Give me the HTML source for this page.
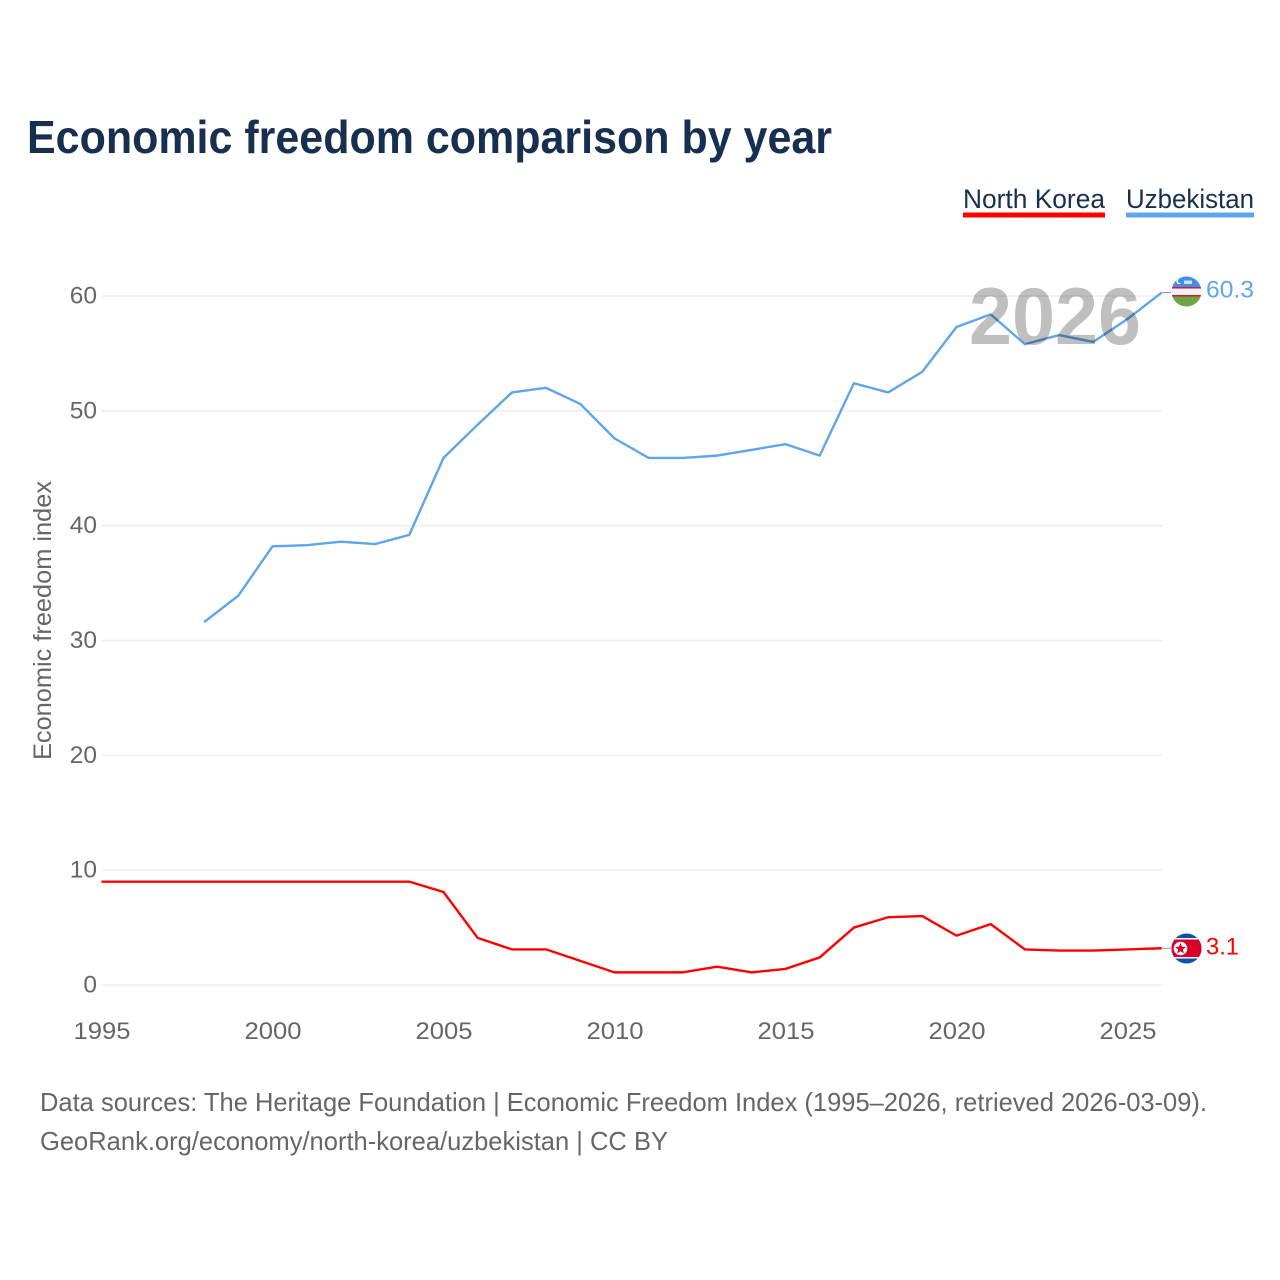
<!DOCTYPE html>
<html lang="en">
<head>
<meta charset="utf-8">
<title>Economic freedom comparison by year</title>
<style>
html,body{margin:0;padding:0;background:#fff;}
svg{display:block;font-family:"Liberation Sans",sans-serif;}
.tick{font-size:24.5px;fill:#666;}
</style>
</head>
<body>
<svg id="chart" width="1280" height="1280" viewBox="0 0 1280 1280" xmlns="http://www.w3.org/2000/svg">
  <defs>
    <clipPath id="clip-uz"><circle id="clip-uz-c" cx="1186.5" cy="291.5" r="15"></circle></clipPath>
    <clipPath id="clip-nk"><circle id="clip-nk-c" cx="1186.5" cy="948.5" r="15"></circle></clipPath>
  </defs>
  <text x="27" y="153" font-size="46" font-weight="700" fill="#18304f" textLength="805" lengthAdjust="spacingAndGlyphs">Economic freedom comparison by year</text>

  <g>
    <text x="963" y="208" font-size="27" fill="#18304f" textLength="142" lengthAdjust="spacingAndGlyphs">North Korea</text>
    <rect x="963" y="212.5" width="142" height="5" fill="#ff0000"></rect>
  </g>
  <g>
    <text x="1126" y="208" font-size="27" fill="#18304f" textLength="128" lengthAdjust="spacingAndGlyphs">Uzbekistan</text>
    <rect x="1126" y="212.5" width="128" height="5" fill="#5fa5ec"></rect>
  </g>

  <g id="grid"></g>
  <g id="yticks"></g>
  <g id="xticks"></g>
  <text transform="translate(51,620.5) rotate(-90)" text-anchor="middle" font-size="25" fill="#666" textLength="279" lengthAdjust="spacingAndGlyphs">Economic freedom index</text>

  <g id="series"></g>

  <text x="969" y="344" font-size="81" font-weight="700" fill="#000" fill-opacity="0.25" textLength="172" lengthAdjust="spacingAndGlyphs">2026</text>

  <g id="flag-uz" clip-path="url(#clip-uz)">
    <rect x="1170" y="275" width="33" height="12" fill="#3f8fe8"></rect>
    <rect x="1170" y="287" width="33" height="1.5" fill="#d8143a"></rect>
    <rect x="1170" y="288.5" width="33" height="6.5" fill="#f2f2f2"></rect>
    <rect x="1170" y="295" width="33" height="1.5" fill="#d8143a"></rect>
    <rect x="1170" y="296.5" width="33" height="12" fill="#6da544"></rect>
    <circle cx="1179" cy="281.5" r="2.6" fill="#fff"></circle>
    <circle cx="1180.2" cy="281" r="2.3" fill="#3f8fe8"></circle>
    <rect x="1184" y="280.5" width="8" height="3.5" fill="#cfe3f8"></rect>
  </g>
  <g id="flag-nk" clip-path="url(#clip-nk)">
    <rect x="1170" y="932" width="33" height="33" fill="#0d50a8"></rect>
    <rect x="1170" y="938" width="33" height="1.5" fill="#fff"></rect>
    <rect x="1170" y="957" width="33" height="1.5" fill="#fff"></rect>
    <rect x="1170" y="939.5" width="33" height="17.5" fill="#d80027"></rect>
    <circle cx="1180.5" cy="948.5" r="6.8" fill="#fff"></circle>
    <polygon points="1180.5,942.9 1182,946.7 1186,946.9 1182.9,949.5 1183.9,953.4 1180.5,951.2 1177.1,953.4 1178.1,949.5 1175,946.9 1179,946.7" fill="#d80027"></polygon>
  </g>
  <g id="endlabels"></g>

  <text x="40" y="1111" font-size="26" fill="#666" textLength="1167" lengthAdjust="spacingAndGlyphs">Data sources: The Heritage Foundation | Economic Freedom Index (1995–2026, retrieved 2026-03-09).</text>
  <text x="40" y="1150" font-size="26" fill="#666" textLength="628" lengthAdjust="spacingAndGlyphs">GeoRank.org/economy/north-korea/uzbekistan | CC BY</text>
</svg>
<script>
const yTickValues = [0, 10, 20, 30, 40, 50, 60];
const xTickValues = [1995, 2000, 2005, 2010, 2015, 2020, 2025];
const years = [1995,1996,1997,1998,1999,2000,2001,2002,2003,2004,2005,2006,2007,2008,2009,2010,2011,2012,2013,2014,2015,2016,2017,2018,2019,2020,2021,2022,2023,2024,2025,2026];
const northKorea = [9,9,9,9,9,9,9,9,9,9,8.1,4.1,3.1,3.1,2.1,1.1,1.1,1.1,1.6,1.1,1.4,2.4,5,5.9,6,4.3,5.3,3.1,3,3,3.1,3.2];
const uzbekistan = [null,null,null,31.6,33.9,38.2,38.3,38.6,38.4,39.2,45.9,48.8,51.6,52,50.6,47.6,45.9,45.9,46.1,46.6,47.1,46.1,52.4,51.6,53.4,57.3,58.4,55.8,56.6,56,58,60.3];
const northKoreaLabel = "3.1";
const uzbekistanLabel = "60.3";

const NS = "http://www.w3.org/2000/svg";
function xScale(year) { return 101.5 + (year - 1995) * 34.2; }
function yScale(v) { return 985 - v * (985 - 296) / 60; }
function make(tag, attrs, parent) {
  const el = document.createElementNS(NS, tag);
  for (const k in attrs) el.setAttribute(k, attrs[k]);
  parent.appendChild(el);
  return el;
}

const gridG = document.getElementById("grid");
const yG = document.getElementById("yticks");
yTickValues.forEach(function (v) {
  const line = make("line", {x1: 102, x2: 1162, y1: yScale(v), y2: yScale(v), stroke: "#eeeeee", "stroke-width": 1.5}, gridG);
  
  
  const t = make("text", {x: 97, y: yScale(v) + 7.5, "text-anchor": "end", class: "tick"}, yG);
  
  
  t.textContent = v;
});

const xG = document.getElementById("xticks");
xTickValues.forEach(function (yr) {
  const t = make("text", {x: xScale(yr) + 0.5, y: 1039, "text-anchor": "middle", class: "tick", textLength: 57, lengthAdjust: "spacingAndGlyphs"}, xG);
  
  
  t.textContent = yr;
});

function linePath(values) {
  let d = "";
  let pen = false;
  values.forEach(function (v, i) {
    if (v === null) { pen = false; return; }
    d += (pen ? "L" : "M") + xScale(years[i]).toFixed(2) + " " + yScale(v).toFixed(2);
    pen = true;
  });
  return d;
}
function lastValue(values) { return values[values.length - 1]; }

const seriesG = document.getElementById("series");
const nkPath = make("path", {d: linePath(northKorea), fill: "none", stroke: "#ff0000", "stroke-width": 2.4, "stroke-linejoin": "round"}, seriesG);


const uzPath = make("path", {d: linePath(uzbekistan), fill: "none", stroke: "#5fa5ec", "stroke-width": 2.4, "stroke-linejoin": "round"}, seriesG);



const nkY = yScale(lastValue(northKorea));
const uzY = yScale(lastValue(uzbekistan));
const nkConn = make("line", {x1: 1162, x2: 1171, y1: nkY, y2: nkY, stroke: "#999", "stroke-width": 1}, seriesG);


const uzConn = make("line", {x1: 1162, x2: 1171, y1: uzY, y2: uzY, stroke: "#999", "stroke-width": 1}, seriesG);



const labelG = document.getElementById("endlabels");
const nkText = make("text", {x: 1206, y: nkY + 6, "font-size": 24.5, fill: "#ff0000", textLength: 33, lengthAdjust: "spacingAndGlyphs"}, labelG);


nkText.textContent = northKoreaLabel;
const uzText = make("text", {x: 1206, y: uzY + 5, "font-size": 24.5, fill: "#5fa5ec", textLength: 48, lengthAdjust: "spacingAndGlyphs"}, labelG);


uzText.textContent = uzbekistanLabel;
</script>
</body>
</html>
